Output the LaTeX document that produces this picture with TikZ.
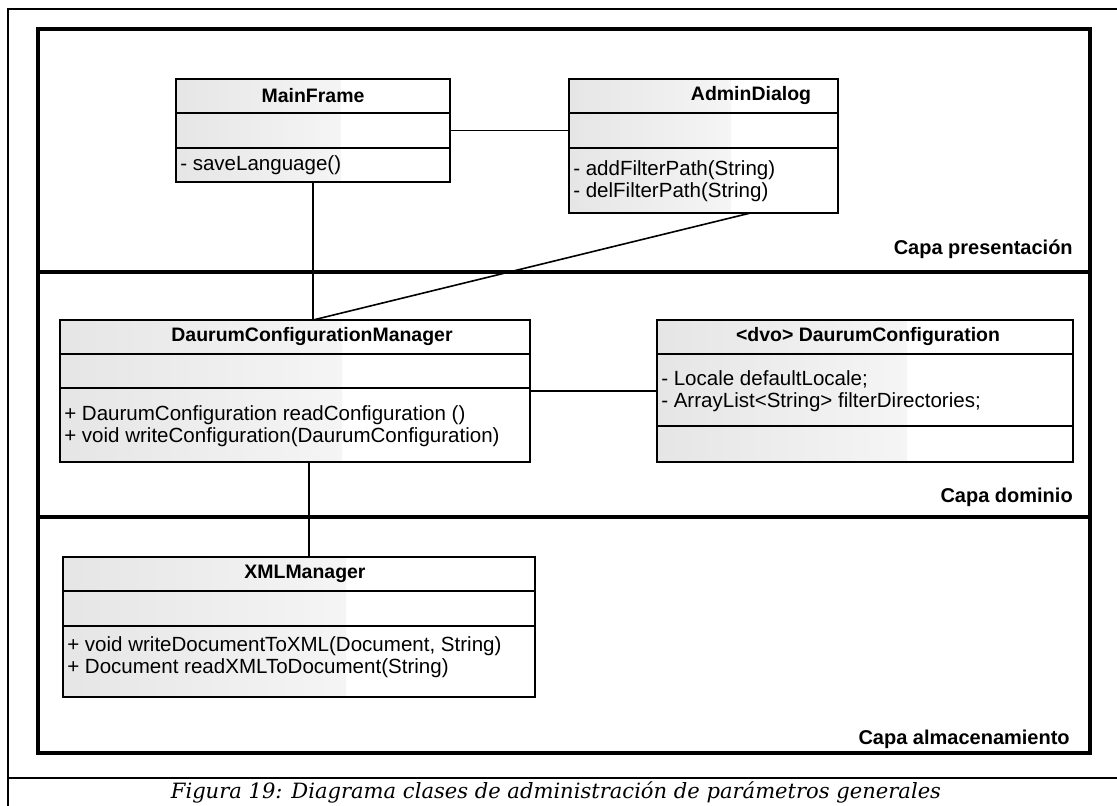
\documentclass[tikz,border=0pt]{standalone}
\usepackage{fontspec}
\setsansfont{Liberation Sans}
\newfontfamily\captionfont{DejaVu Serif}
\usetikzlibrary{calc}

\tikzset{
  frameline/.style={line width=2.4pt},
  outerline/.style={line width=1.4pt},
  classbox/.style={draw, line width=1.2pt, rectangle, inner sep=0pt, outer sep=0pt, anchor=north west,
    path picture={\fill[left color=gray!20, right color=white]
      (path picture bounding box.south west) rectangle
      ($(path picture bounding box.north west)!0.6!(path picture bounding box.north east)$);}},
  divider/.style={line width=1.2pt},
  link/.style={line width=1.2pt},
  classname/.style={font=\sffamily\bfseries\fontsize{14.6}{17}\selectfont, inner sep=0pt},
  members/.style={font=\sffamily\fontsize{15.4}{16.5}\selectfont, anchor=west, align=left, inner sep=0pt},
  layer/.style={font=\sffamily\bfseries\fontsize{15}{17}\selectfont, anchor=east, inner sep=0pt},
  figcaption/.style={font=\captionfont\itshape\fontsize{15.8}{18}\selectfont, inner sep=0pt},
}

% #1 node name, #2..#5 corners (x1,y1,x2,y2), #6 #7 compartment dividers,
% #8 x of the class name, #9 class name
\newcommand{\umlclass}[9]{%
  \node[classbox, minimum width={(#4-#2)*0.75pt}, minimum height={(#5-#3)*0.75pt}] (#1) at (#2,#3) {};
  \draw[divider] (#2,#6) -- (#4,#6);
  \draw[divider] (#2,#7) -- (#4,#7);
  \node[classname] (#1-name) at (#8,{(#3+#6)/2}) {#9};
}

\begin{document}
\begin{tikzpicture}[x=0.75pt, y=-0.75pt]
  \useasboundingbox (0,0) rectangle (1117,806);

  % table cell around the figure and its caption
  \draw[outerline] (1117,9) -- (8,9) -- (8,806);
  \draw[outerline] (8,778) -- (1117,778);
  \node[figcaption] (caption) at (556,792)
    {Figura 19: Diagrama clases de administración de parámetros generales};

  % layers
  \draw[frameline] (38,29) rectangle (1090,753);
  \draw[frameline] (38,272) -- (1090,272);
  \draw[frameline] (38,517) -- (1090,517);
  \node[layer] (l1) at (1073,249) {Capa presentación};
  \node[layer] (l2) at (1073,497) {Capa dominio};
  \node[layer] (l3) at (1070,739) {Capa almacenamiento};

  % classes
  \umlclass{mf}{176}{79}{450}{182}{113}{148}{313}{MainFrame}
  \node[members] (mf-ops) at (180,165) {- saveLanguage()};

  \umlclass{ad}{569}{79}{838}{213}{113}{148}{751}{AdminDialog}
  \node[members] (ad-ops) at (573,181) {- addFilterPath(String)\\- delFilterPath(String)};

  \umlclass{dcm}{60}{320}{530}{462}{354}{388}{312}{DaurumConfigurationManager}
  \node[members] (dcm-ops) at (64,426)
    {+ DaurumConfiguration readConfiguration ()\\+ void writeConfiguration(DaurumConfiguration)};

  \umlclass{dc}{657}{320}{1073}{462}{354}{426}{868}{<dvo> DaurumConfiguration}
  \node[members] (dc-attrs) at (661,391)
    {- Locale defaultLocale;\\- ArrayList<String> filterDirectories;};

  \umlclass{xml}{63}{557}{535}{697}{591}{626}{305}{XMLManager}
  \node[members] (xml-ops) at (67,657)
    {+ void writeDocumentToXML(Document, String)\\+ Document readXMLToDocument(String)};

  % associations
  \draw[link] (mf.east) -- (mf.east -| ad.west);
  \draw[link] (mf.south) -- (mf.south |- dcm.north);
  \coordinate (adfoot) at ($(ad.south west)!0.675!(ad.south east)$);
  \draw[link] (adfoot) -- (mf.south |- dcm.north);
  \draw[link] (dcm.east) -- (dcm.east -| dc.west);
  \coordinate (dcmfoot) at ($(dcm.south west)!0.53!(dcm.south east)$);
  \draw[link] (dcmfoot) -- (dcmfoot |- xml.north);
\end{tikzpicture}
\end{document}
